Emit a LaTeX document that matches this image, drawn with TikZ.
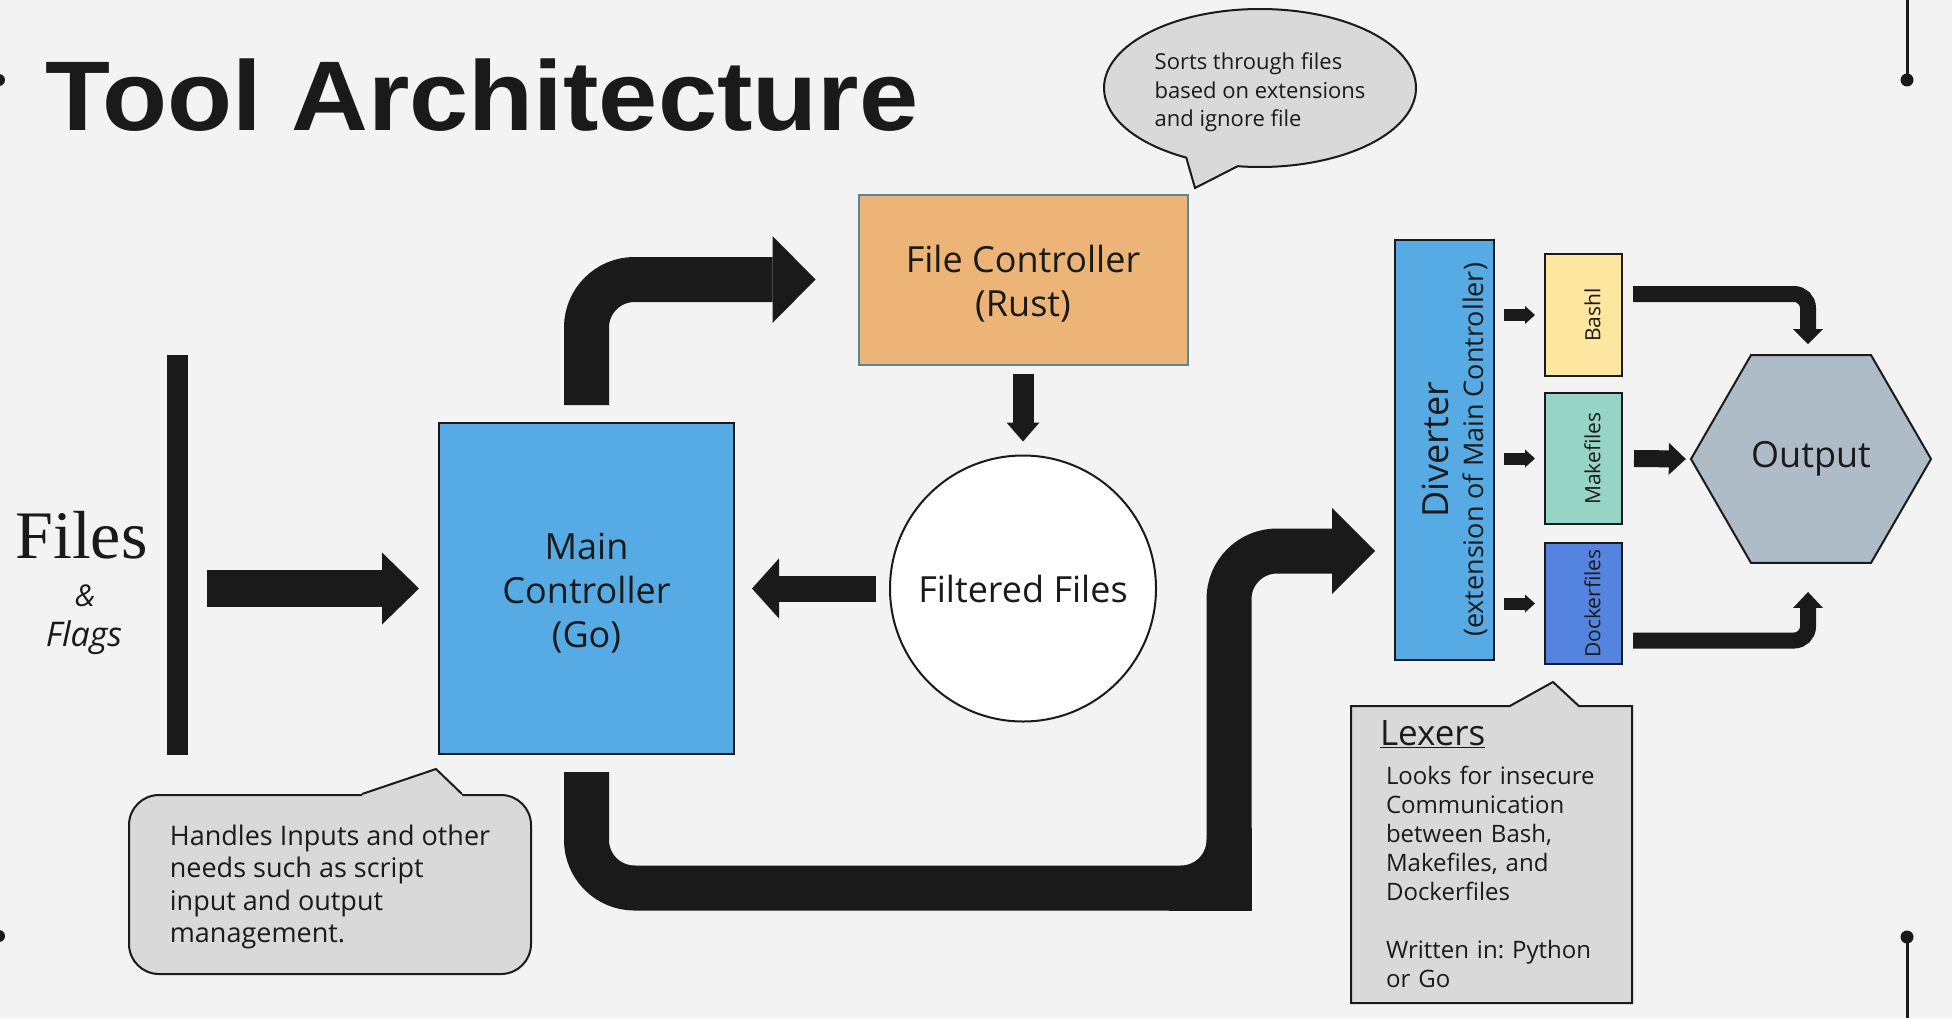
\documentclass[tikz,border=0pt]{standalone}
\usepackage{fontspec}
\setmainfont{Open Sans}
\newfontfamily\titlefont{Liberation Sans}[FakeStretch=1.075]
\newfontfamily\filesfont{Liberation Serif}
\usetikzlibrary{positioning,calc,shapes.geometric,shapes.callouts,arrows.meta}
\frenchspacing

\definecolor{ink}{HTML}{1A1A1A}
\definecolor{paper}{HTML}{F3F3F3}
\definecolor{mainblue}{HTML}{56ABE4}
\definecolor{rustorange}{HTML}{EDB477}
\definecolor{rustedge}{HTML}{5A8797}
\definecolor{bashyellow}{HTML}{FCE6A0}
\definecolor{maketeal}{HTML}{96D5C5}
\definecolor{dockerblue}{HTML}{5584E0}
\definecolor{outgray}{HTML}{AEBCC8}
\definecolor{memogray}{HTML}{D9D9D9}

\newcommand\cardfont{\fontsize{36}{44}\selectfont}
\newcommand\memofont{\fontsize{27}{32.5}\selectfont}
\newcommand\tagfont{\fontsize{21}{24}\selectfont}

\tikzset{
  box/.style={rectangle, draw=ink, line width=2pt, inner sep=0pt, align=center, text=ink},
  memo/.style={draw=ink, line width=2pt, fill=memogray, align=left, text=ink, inner sep=0pt},
  flow/.style n args={3}{draw=ink, line width=#1, -{Triangle[length=#2, width=#3, line width=0pt]}},
}

\begin{document}
\begin{tikzpicture}[x=1pt, y=-1pt, node distance=100pt]
    \useasboundingbox (0,0) rectangle (1952,1018);
    \fill[paper] (0,0) rectangle (1952,1018);

    % corner marks
    \draw[ink, line width=3pt] (1907,0) -- (1907,80);
    \fill[ink] (1907,80) circle[radius=6.5pt];
    \fill[ink] (1907,937) circle[radius=6.5pt];
    \draw[ink, line width=3pt] (1907,937) -- (1907,1018);
    \fill[ink] (-1,80) circle[radius=6pt];
    \fill[ink] (-1,936) circle[radius=6pt];

    \node[anchor=base west, inner sep=0pt, text=ink, font=\titlefont\bfseries\fontsize{99}{99}\selectfont] (title) at (45,130) {Tool Architecture};

    % inputs
    \node[anchor=base, inner sep=0pt, text=ink, font=\filesfont\fontsize{68}{68}\selectfont] (files) at (81.5,558) {Files};
    \node[anchor=base, inner sep=0pt, text=ink, font=\itshape\fontsize{30}{30}\selectfont] (amp) at (85,606) {\&};
    \node[anchor=base, inner sep=0pt, text=ink, font=\itshape\fontsize{34}{34}\selectfont] (flags) at (84,646) {Flags};
    \node[fill=ink, inner sep=0pt, minimum width=21pt, minimum height=400pt] (bar) at (177.5,555) {};

    % controllers
    \node[box, fill=mainblue, minimum width=295pt, minimum height=331pt, font=\cardfont] (main) at (586.5,588.5) {\rule{0pt}{35pt}Main\\Controller\\(Go)};
    \node[circle, draw=ink, line width=2pt, fill=white, text=ink, minimum size=266pt, font=\cardfont, right of=main, node distance=436.5pt] (filtered) {Filtered Files};
    \node[box, fill=rustorange, draw=rustedge, minimum width=329pt, minimum height=170pt, font=\cardfont, above of=filtered, node distance=309pt] (filectl) {\rule{0pt}{35pt}File Controller\\(Rust)};

    % diverter and lexers
    \node[box, fill=mainblue, minimum width=99pt, minimum height=420pt] (diverter) at (1444.5,450) {};
    \node[rotate=90, align=center, text=ink, font=\fontsize{27}{35}\selectfont] (divlabel) at ([xshift=10pt]diverter.center) {{\fontsize{36}{36}\selectfont Diverter}\\(extension of Main Controller)};
    \node[box, fill=bashyellow, minimum width=77pt, minimum height=122pt] (bash) at (1583.5,315) {};
    \node[box, fill=maketeal, minimum width=77pt, minimum height=131pt] (make) at (1583.5,458.5) {};
    \node[box, fill=dockerblue, minimum width=77pt, minimum height=121pt] (docker) at (1583.5,603.5) {};
    \node[rotate=90, text=ink, font=\tagfont] (bashlabel) at ([xshift=9pt]bash.center) {Bashl};
    \node[rotate=90, text=ink, font=\tagfont] (makelabel) at ([xshift=9pt]make.center) {Makefiles};
    \node[rotate=90, text=ink, font=\tagfont] (dockerlabel) at ([xshift=9pt]docker.center) {Dockerfiles};
    \node[regular polygon, regular polygon sides=6, minimum size=240pt, draw=ink, line width=2pt, fill=outgray, text=ink, inner sep=0pt, font=\cardfont] (output) at (1811,459) {Output};

    % notes
    \node[memo, ellipse callout, minimum width=312pt, minimum height=158pt, callout absolute pointer={(1195,188)}, callout pointer arc=20, font=\fontsize{22}{28.5}\selectfont] (sortnote) at (1260,88) {\rule{0pt}{26pt}Sorts through files\\based on extensions\\and ignore file};
    \node[memo, rounded corners=30pt, minimum width=402pt, minimum height=179pt, font=\memofont] (handlenote) at (330,884.5) {\rule{0pt}{25pt}Handles Inputs and other\\needs such as script\\input and output\\management.};
    \coordinate (handletip) at (436,769);
    \fill[memogray] ($(handlenote.north west)+(234,0)$) -- (handletip) -- ($(handlenote.north west)+(334,0)$) -- ++(0,4) -- ($(handlenote.north west)+(234,4)$) -- cycle;
    \draw[ink, line width=2pt] ($(handlenote.north west)+(234,0)$) -- (handletip) -- ($(handlenote.north west)+(334,0)$);
    \node[memo, rectangle callout, minimum width=281pt, minimum height=297pt, text width=211pt, callout absolute pointer={(1553,682)}, callout pointer width=69pt, font=\fontsize{24}{29}\selectfont] (lexnote) at (1491.5,854.5) {\hspace*{-6pt}{\fontsize{35}{40}\selectfont\underline{Lexers}}\\[10pt]Looks for insecure\\Communication\\between Bash,\\Makefiles, and\\Dockerfiles\\[29pt]Written in: Python\\or Go};

    % connectors
    \draw[flow={37pt}{37pt}{72pt}] ($(bar.east |- main.west)+(19,0)$) -- ([xshift=-19pt]main.west);
    \draw[flow={45pt}{43pt}{87pt}, rounded corners=48pt] ([yshift=17pt]main.north) |- ([xshift=-42pt]filectl.west);
    \draw[flow={21pt}{19pt}{33pt}] ([yshift=-8pt]filectl.south) -- ([yshift=13pt]filtered.north);
    \draw[flow={26pt}{27pt}{60pt}] ([xshift=-13pt]filtered.west) -- ([xshift=17pt]main.east);
    \coordinate (lowbend) at (1229,888);
    \coordinate (divtip) at ([xshift=-19pt,yshift=-101pt]diverter.west);
    \draw[flow={45pt}{43pt}{86pt}, rounded corners=48pt] ([yshift=-17pt]main.south) |- (lowbend) |- (divtip);
    \draw[ink, line width=45pt] ($(lowbend)+(-60,0)$) -- (lowbend) -- ($(lowbend)+(0,-60)$);
    \foreach \t in {bash, make, docker}
        \draw[flow={12pt}{10pt}{18pt}] ($(diverter.east |- \t.west)+(9,0)$) -- ([xshift=-9pt]\t.west);
    \draw[flow={16pt}{15pt}{30pt}, rounded corners=14pt] ([xshift=10pt,yshift=21pt]bash.east) -| ([xshift=-3pt,yshift=10pt]output.north);
    \draw[flow={17pt}{17pt}{32pt}] ([xshift=11pt]make.east) -- ([xshift=-4pt]output.west);
    \draw[flow={16pt}{16pt}{30pt}, rounded corners=14pt] ([xshift=10pt,yshift=-37pt]docker.east) -| ([xshift=-3pt,yshift=-28pt]output.south);
\end{tikzpicture}
\end{document}
